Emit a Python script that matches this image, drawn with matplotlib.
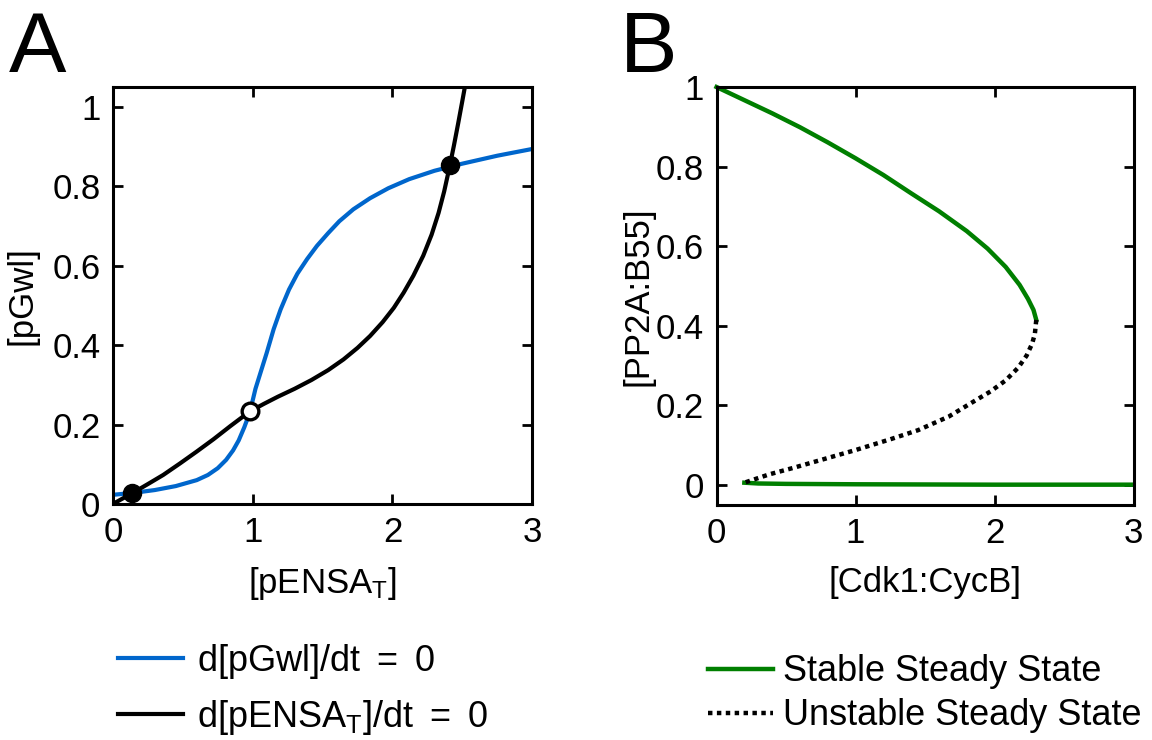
import matplotlib
matplotlib.use("Agg")
import matplotlib.pyplot as plt

plt.rcParams['font.family'] = ['Liberation Sans', 'DejaVu Sans']
plt.rcParams['mathtext.default'] = 'regular'

# nullclines of the pGwl / pENSA system
gwl_x = [0.0, 0.15, 0.3, 0.45, 0.6, 0.68, 0.75, 0.81, 0.86, 0.9, 0.94, 0.98, 1.02,
         1.06, 1.1, 1.15, 1.2, 1.26, 1.32, 1.39, 1.46, 1.54, 1.62, 1.72, 1.84, 1.97,
         2.12, 2.3, 2.5, 2.75, 3.0]
gwl_y = [0.023, 0.028, 0.035, 0.045, 0.06, 0.073, 0.09, 0.111, 0.135, 0.16, 0.193,
         0.231, 0.29, 0.335, 0.38, 0.44, 0.49, 0.54, 0.58, 0.617, 0.65, 0.682, 0.712,
         0.742, 0.77, 0.795, 0.818, 0.839, 0.857, 0.877, 0.894]

ensa_x = [0.0, 0.143, 0.25, 0.36, 0.48, 0.6, 0.72, 0.84, 0.98, 1.08, 1.18, 1.3, 1.42,
          1.54, 1.65, 1.75, 1.84, 1.93, 2.01, 2.08, 2.15, 2.22, 2.28, 2.33, 2.37,
          2.41, 2.44, 2.47, 2.5, 2.53]
ensa_y = [0.0, 0.028, 0.05, 0.073, 0.102, 0.132, 0.163, 0.196, 0.233, 0.252, 0.27,
          0.29, 0.312, 0.337, 0.364, 0.393, 0.423, 0.458, 0.494, 0.532, 0.575, 0.625,
          0.678, 0.733, 0.787, 0.851, 0.903, 0.958, 1.015, 1.073]

# steady states (intersections)
stable_pts_x = [0.14, 2.412]
stable_pts_y = [0.028, 0.853]
unstable_pts_x = [0.982]
unstable_pts_y = [0.233]

# bifurcation diagram
upper_x = [0.0, 0.2, 0.4, 0.6, 0.8, 1.0, 1.2, 1.4, 1.6, 1.8, 1.95, 2.08, 2.18, 2.24,
           2.28, 2.30]
upper_y = [1.0, 0.967, 0.934, 0.899, 0.861, 0.821, 0.779, 0.733, 0.688, 0.638, 0.594,
           0.548, 0.503, 0.468, 0.44, 0.415]
middle_x = [2.30, 2.29, 2.27, 2.23, 2.17, 2.08, 1.97, 1.85, 1.67, 1.45, 1.25, 1.0,
            0.75, 0.55, 0.38, 0.2]
middle_y = [0.415, 0.38, 0.355, 0.325, 0.295, 0.263, 0.235, 0.21, 0.172, 0.138, 0.115,
            0.088, 0.063, 0.043, 0.027, 0.006]
lower_x = [0.2, 0.3, 0.5, 1.0, 2.0, 3.0]
lower_y = [0.006, 0.004, 0.003, 0.002, 0.001, 0.001]

fig = plt.figure(figsize=(11.52, 7.40), dpi=100)
axA = fig.add_axes([0.098, 0.319, 0.364, 0.5634])
axB = fig.add_axes([0.622, 0.3176, 0.362, 0.5648])

blue = '#0066cc'
green = '#007f00'

axA.plot(gwl_x, gwl_y, color=blue, lw=3, label='d[pGwl]/dt $=$ 0')
axA.plot(ensa_x, ensa_y, color='black', lw=3, label='d[pENSA$_T$]/dt $=$ 0')
axA.plot(stable_pts_x, stable_pts_y, 'o', color='black', ms=13, zorder=5)
axA.plot(unstable_pts_x, unstable_pts_y, 'o', mfc='white', mec='black', mew=2.4,
         ms=12, zorder=5)
axA.set_xlim(0, 3)
axA.set_ylim(0, 1.05)
axA.set_xticks([0, 1, 2, 3])
axA.set_yticks([0, 0.2, 0.4, 0.6, 0.8, 1])
axA.set_yticklabels(['0', '0.2', '0.4', '0.6', '0.8', '1'])
axA.set_xlabel('[pENSA$_T$]', fontsize=25, labelpad=11)
axA.set_ylabel('[pGwl]', fontsize=25, labelpad=10)

axB.plot(upper_x, upper_y, color=green, lw=3.2, label='Stable Steady State',
         clip_on=False)
axB.plot(lower_x, lower_y, color=green, lw=3.2)
axB.plot(middle_x, middle_y, color='black', lw=3.2, ls=(0, (1, 1)),
         label='Unstable Steady State')
axB.set_xlim(0, 3)
axB.set_ylim(-0.05, 1.0)
axB.set_xticks([0, 1, 2, 3])
axB.set_yticks([0, 0.2, 0.4, 0.6, 0.8, 1])
axB.set_yticklabels(['0', '0.2', '0.4', '0.6', '0.8', '1'])
axB.set_xlabel('[Cdk1:CycB]', fontsize=25, labelpad=11)
axB.set_ylabel('[PP2A:B55]', fontsize=25, labelpad=1)

for ax in (axA, axB):
    for sp in ax.spines.values():
        sp.set_linewidth(2.2)
    ax.tick_params(direction='in', top=True, right=True, length=7, width=2,
                   labelsize=25, pad=9)

axA.legend(loc='upper left', bbox_to_anchor=(0.1024, 0.133),
           bbox_transform=fig.transFigure, frameon=False, fontsize=26,
           handlelength=1.8, handletextpad=0.39, labelspacing=0.48,
           borderaxespad=0, borderpad=0)
axB.legend(loc='upper left', bbox_to_anchor=(0.6146, 0.116),
           bbox_transform=fig.transFigure, frameon=False, fontsize=26,
           handlelength=1.8, handletextpad=0.28, labelspacing=0.25,
           borderaxespad=0, borderpad=0)

fig.text(0.008, 0.903, 'A', fontsize=62)
fig.text(0.538, 0.903, 'B', fontsize=62)

fig.savefig('out.png', dpi=100)
